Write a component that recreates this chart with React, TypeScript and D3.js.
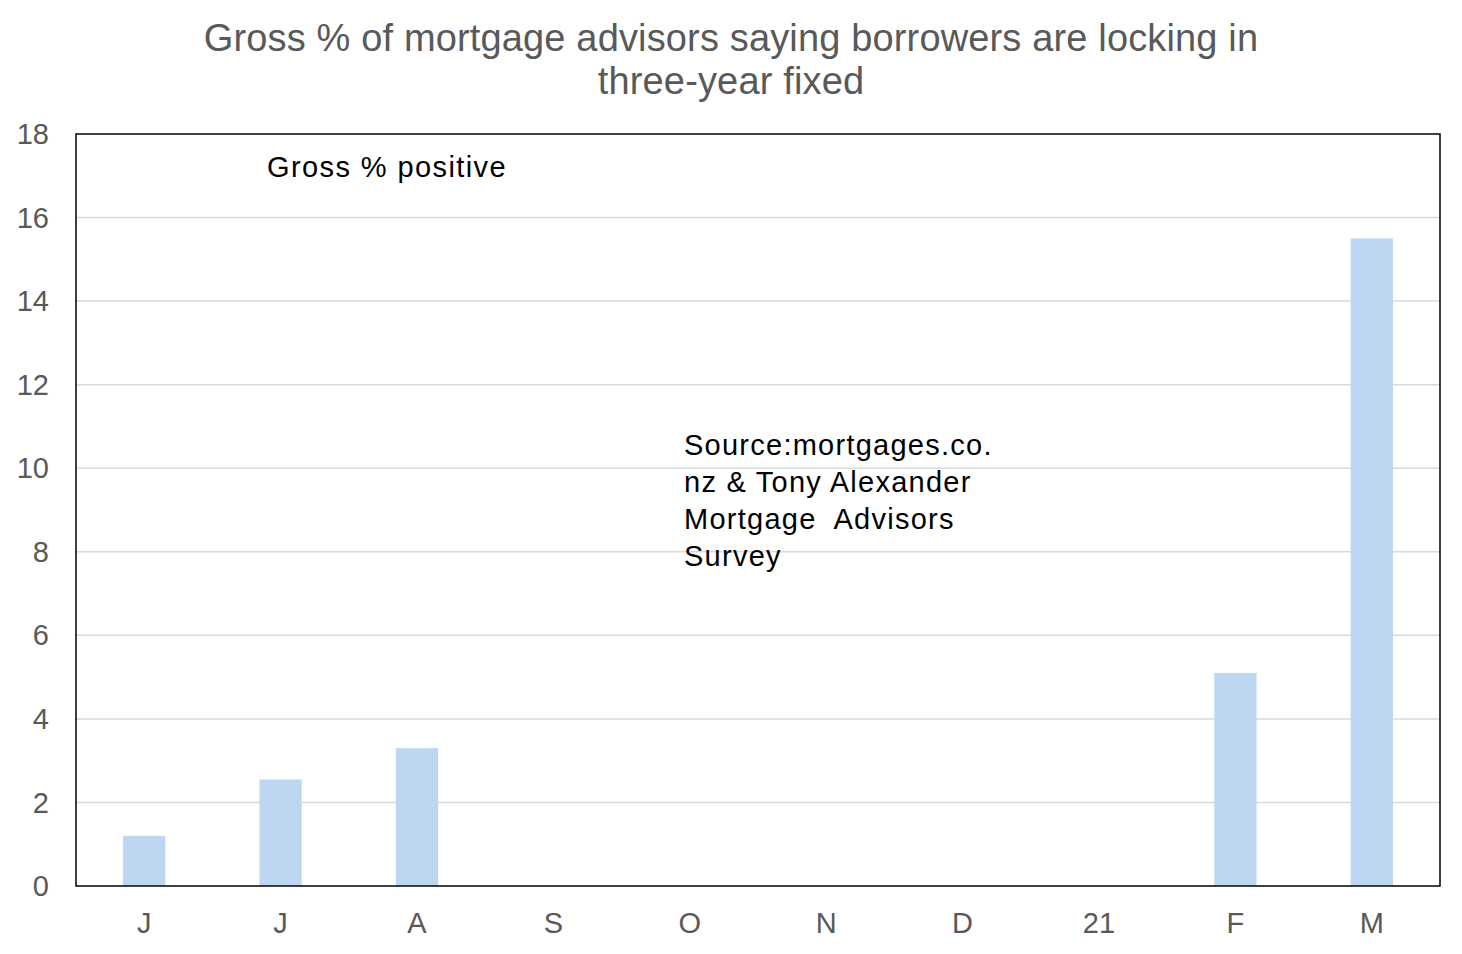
import React, { useEffect, useRef } from 'react';
import * as d3 from 'd3';

const months = ['J', 'J', 'A', 'S', 'O', 'N', 'D', '21', 'F', 'M'];
const grossPositive = [1.2, 2.55, 3.3, 0, 0, 0, 0, 0, 5.1, 15.5];
const yTicks = [0, 2, 4, 6, 8, 10, 12, 14, 16, 18];
const titleLines = [
  'Gross % of mortgage advisors saying borrowers are locking in',
  'three-year fixed',
];
const sourceLines = ['Source:mortgages.co.', 'nz & Tony Alexander', 'Mortgage  Advisors', 'Survey'];

export default function App() {
  const svgRef = useRef<SVGSVGElement>(null);

  useEffect(() => {
    if (!svgRef.current) return;
    const width = 1462;
    const height = 954;
    const margin = { top: 134, right: 22, bottom: 68, left: 76 };

    const svg = d3.select(svgRef.current)
      .attr('width', width)
      .attr('height', height)
      .html('');

    const font = 'Arial, "Liberation Sans", sans-serif';

    const x = d3.scaleBand<number>()
      .domain(months.map((_, i) => i))
      .range([margin.left, width - margin.right])
      .paddingInner(0.69)
      .paddingOuter(0.345);

    const y = d3.scaleLinear()
      .domain([0, 18])
      .range([height - margin.bottom, margin.top]);

    // Title
    svg.append('g')
      .selectAll('text')
      .data(titleLines)
      .enter()
      .append('text')
      .attr('x', 731)
      .attr('y', (_, i) => 51 + i * 43)
      .attr('text-anchor', 'middle')
      .attr('fill', '#595959')
      .attr('font-family', font)
      .attr('font-size', '38px')
      .attr('letter-spacing', '0.15px')
      .text(d => d);

    // Gridlines
    svg.append('g')
      .selectAll('line')
      .data(yTicks.filter(t => t > 0 && t < 18))
      .enter()
      .append('line')
      .attr('x1', margin.left)
      .attr('x2', width - margin.right)
      .attr('y1', d => y(d))
      .attr('y2', d => y(d))
      .attr('stroke', '#d9d9d9')
      .attr('stroke-width', 1.5);

    // Bars
    svg.append('g')
      .selectAll('rect')
      .data(grossPositive)
      .enter()
      .append('rect')
      .attr('x', (_, i) => x(i)!)
      .attr('width', x.bandwidth())
      .attr('y', d => y(d))
      .attr('height', d => y(0) - y(d))
      .attr('fill', '#bdd7f3');

    // Frame
    svg.append('rect')
      .attr('x', margin.left)
      .attr('y', margin.top)
      .attr('width', width - margin.left - margin.right)
      .attr('height', height - margin.top - margin.bottom)
      .attr('fill', 'none')
      .attr('stroke', '#000')
      .attr('stroke-width', 1.5);

    // Y tick labels
    svg.append('g')
      .selectAll('text')
      .data(yTicks)
      .enter()
      .append('text')
      .attr('x', 49)
      .attr('y', d => y(d))
      .attr('dy', '0.35em')
      .attr('text-anchor', 'end')
      .attr('fill', '#595959')
      .attr('font-family', font)
      .attr('font-size', '29px')
      .text(d => d);

    // X tick labels
    svg.append('g')
      .selectAll('text')
      .data(months)
      .enter()
      .append('text')
      .attr('x', (_, i) => x(i)! + x.bandwidth() / 2)
      .attr('y', 923)
      .attr('dy', '0.35em')
      .attr('text-anchor', 'middle')
      .attr('fill', '#595959')
      .attr('font-family', font)
      .attr('font-size', '29px')
      .text(d => d);

    // Annotations
    svg.append('text')
      .attr('x', 267)
      .attr('y', 177)
      .attr('fill', '#000')
      .attr('font-family', font)
      .attr('font-size', '29px')
      .attr('letter-spacing', '1.4px')
      .text('Gross % positive');

    svg.append('g')
      .selectAll('text')
      .data(sourceLines)
      .enter()
      .append('text')
      .attr('x', 684)
      .attr('y', (_, i) => 455 + i * 37)
      .attr('fill', '#000')
      .attr('font-family', font)
      .attr('font-size', '29px')
      .attr('letter-spacing', '1.25px')
      .attr('xml:space', 'preserve')
      .style('white-space', 'pre')
      .text(d => d);
  }, []);

  return (
    <div style={{ position: 'absolute', left: 0, top: 0, background: '#fff' }}>
      <svg ref={svgRef} style={{ display: 'block' }} />
    </div>
  );
}
